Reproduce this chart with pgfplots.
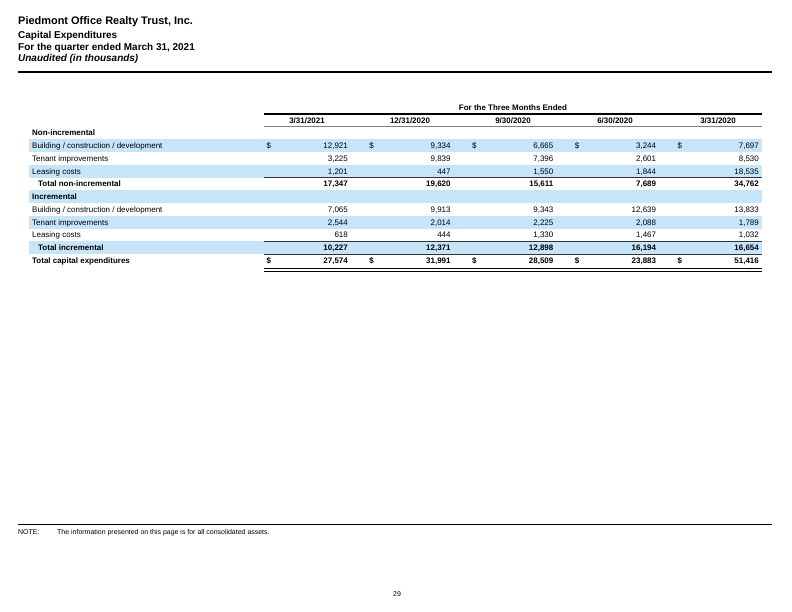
\documentclass[border=0pt]{standalone}
\usepackage{fontspec}
\setmainfont{Liberation Sans}
\usepackage{pgfplots}
\pgfplotsset{compat=1.18}
\usepackage{pgfplotstable}
\definecolor{band}{HTML}{C6E5FB}
\definecolor{rule}{HTML}{333333}

% capital expenditures, in thousands; y = row position on the page
\pgfplotstableread{
y     c1    c2    c3    c4    c5
145.7 12921 9334  6665  3244  7697
158.5 3225  9839  7396  2601  8530
171.3 1201  447   1550  1844  18535
209.5 7065  9913  9343  12639 13833
222.3 2544  2014  2225  2088  1789
235.0 618   444   1330  1467  1032
}\detail
\pgfplotstableread{
y     c1    c2    c3    c4    c5
184.0 17347 19620 15611 7689  34762
247.7 10227 12371 12898 16194 16654
260.5 27574 31991 28509 23883 51416
}\totals

\newcommand{\body}{\fontsize{8}{9.6}\selectfont}
% text set on its baseline, centred on the row by its cap height
\tikzset{
  lbl/.style={anchor=base west, inner sep=0pt, yshift=-2.9pt},
  ctr/.style={anchor=base, inner sep=0pt, yshift=-2.9pt},
}

\begin{document}
\begin{tikzpicture}
\begin{axis}[
  width=792bp, height=612bp, scale only axis,
  xmin=0, xmax=792, ymin=0, ymax=612, y dir=reverse,
  hide axis, clip=false,
  point meta=explicit,
  /pgf/number format/.cd, fixed, precision=0, 1000 sep={,}, assume math mode=true,
]
\draw[draw=none] (axis cs:0,0) rectangle (axis cs:792,612);

% header
\node[lbl, yshift=-1.1pt, font=\fontsize{11}{13}\selectfont\bfseries] at (axis cs:18,20.5) {Piedmont Office Realty Trust, Inc.};
\node[lbl, yshift=-0.7pt, font=\fontsize{10}{12}\selectfont\bfseries] at (axis cs:18,34.5) {Capital Expenditures};
\node[lbl, yshift=-0.7pt, font=\fontsize{10}{12}\selectfont\bfseries] at (axis cs:18,46.5) {For the quarter ended March 31, 2021};
\node[lbl, yshift=-0.7pt, font=\fontsize{10}{12}\selectfont\bfseries\itshape] at (axis cs:18,58.3) {Unaudited (in thousands)};
\draw[line width=2bp] (axis cs:18,72.5) -- (axis cs:772,72.5);

% shaded rows
\fill[band] (axis cs:29,139.3) rectangle (axis cs:762,152.1);
\fill[band] (axis cs:29,164.9) rectangle (axis cs:762,177.7);
\fill[band] (axis cs:29,190.3) rectangle (axis cs:762,203.1);
\fill[band] (axis cs:29,215.9) rectangle (axis cs:762,228.7);
\fill[band] (axis cs:29,241.3) rectangle (axis cs:762,254.1);

% column heads
\node[ctr, font=\body\bfseries] at (axis cs:513,107.5) {For the Three Months Ended};
\draw[line width=1.2bp] (axis cs:264,114) -- (axis cs:762,114);
\node[ctr, font=\body\bfseries] at (axis cs:307,120.3) {3/31/2021};
\node[ctr, font=\body\bfseries] at (axis cs:410,120.3) {12/31/2020};
\node[ctr, font=\body\bfseries] at (axis cs:513,120.3) {9/30/2020};
\node[ctr, font=\body\bfseries] at (axis cs:615,120.3) {6/30/2020};
\node[ctr, font=\body\bfseries] at (axis cs:718,120.3) {3/31/2020};
\draw[gray, line width=1bp] (axis cs:264,126.5) -- (axis cs:762,126.5);

% row labels
\node[lbl, font=\body\bfseries] at (axis cs:32,132.7) {Non-incremental};
\node[lbl, font=\body] at (axis cs:32,145.7) {Building / construction / development};
\node[lbl, font=\body] at (axis cs:32,158.5) {Tenant improvements};
\node[lbl, font=\body] at (axis cs:32,171.3) {Leasing costs};
\node[lbl, font=\body\bfseries] at (axis cs:38,184) {Total non-incremental};
\node[lbl, font=\body\bfseries] at (axis cs:32,196.7) {Incremental};
\node[lbl, font=\body] at (axis cs:32,209.5) {Building / construction / development};
\node[lbl, font=\body] at (axis cs:32,222.3) {Tenant improvements};
\node[lbl, font=\body] at (axis cs:32,235) {Leasing costs};
\node[lbl, font=\body\bfseries] at (axis cs:38,247.7) {Total incremental};
\node[lbl, font=\body\bfseries] at (axis cs:32,260.5) {Total capital expenditures};

% dollar signs
\pgfplotsinvokeforeach{266.5,369.25,472,574.75,677.5}{
  \node[lbl, font=\body] at (axis cs:#1,145.7) {\$};
  \node[lbl, font=\body\bfseries] at (axis cs:#1,260.5) {\$};
}

% rules
\draw[rule, line width=1bp] (axis cs:264,177.7) -- (axis cs:762,177.7);
\draw[rule, line width=1bp] (axis cs:264,241.2) -- (axis cs:762,241.2);
\draw[rule, line width=0.8bp] (axis cs:264,254.2) -- (axis cs:762,254.2);
\draw[line width=1bp] (axis cs:264,268.8) -- (axis cs:762,268.8);
\draw[line width=1bp] (axis cs:264,271.3) -- (axis cs:762,271.3);

% values
\pgfplotsinvokeforeach{1,...,5}{
  \addplot[draw=none, mark=none, nodes near coords,
    every node near coord/.append style={anchor=base east, inner sep=0pt, yshift=-2.9pt, font=\body}]
    table[x expr={348+102.75*(#1-1)}, y=y, meta=c#1] {\detail};
  \addplot[draw=none, mark=none, nodes near coords,
    every node near coord/.append style={anchor=base east, inner sep=0pt, yshift=-2.9pt, font=\body\bfseries}]
    table[x expr={348+102.75*(#1-1)}, y=y, meta=c#1] {\totals};
}

% note and page number
\draw[line width=1bp] (axis cs:18,524) -- (axis cs:772,524);
\node[lbl, yshift=0.4pt, font=\fontsize{7}{8}\selectfont] at (axis cs:18,532.5) {NOTE:};
\node[lbl, yshift=0.4pt, font=\fontsize{7}{8}\selectfont] at (axis cs:57,532.5) {The information presented on this page is for all consolidated assets.};
\node[ctr, yshift=0.4pt, font=\fontsize{7}{8}\selectfont] at (axis cs:397,594) {29};
\end{axis}
\end{tikzpicture}
\end{document}
